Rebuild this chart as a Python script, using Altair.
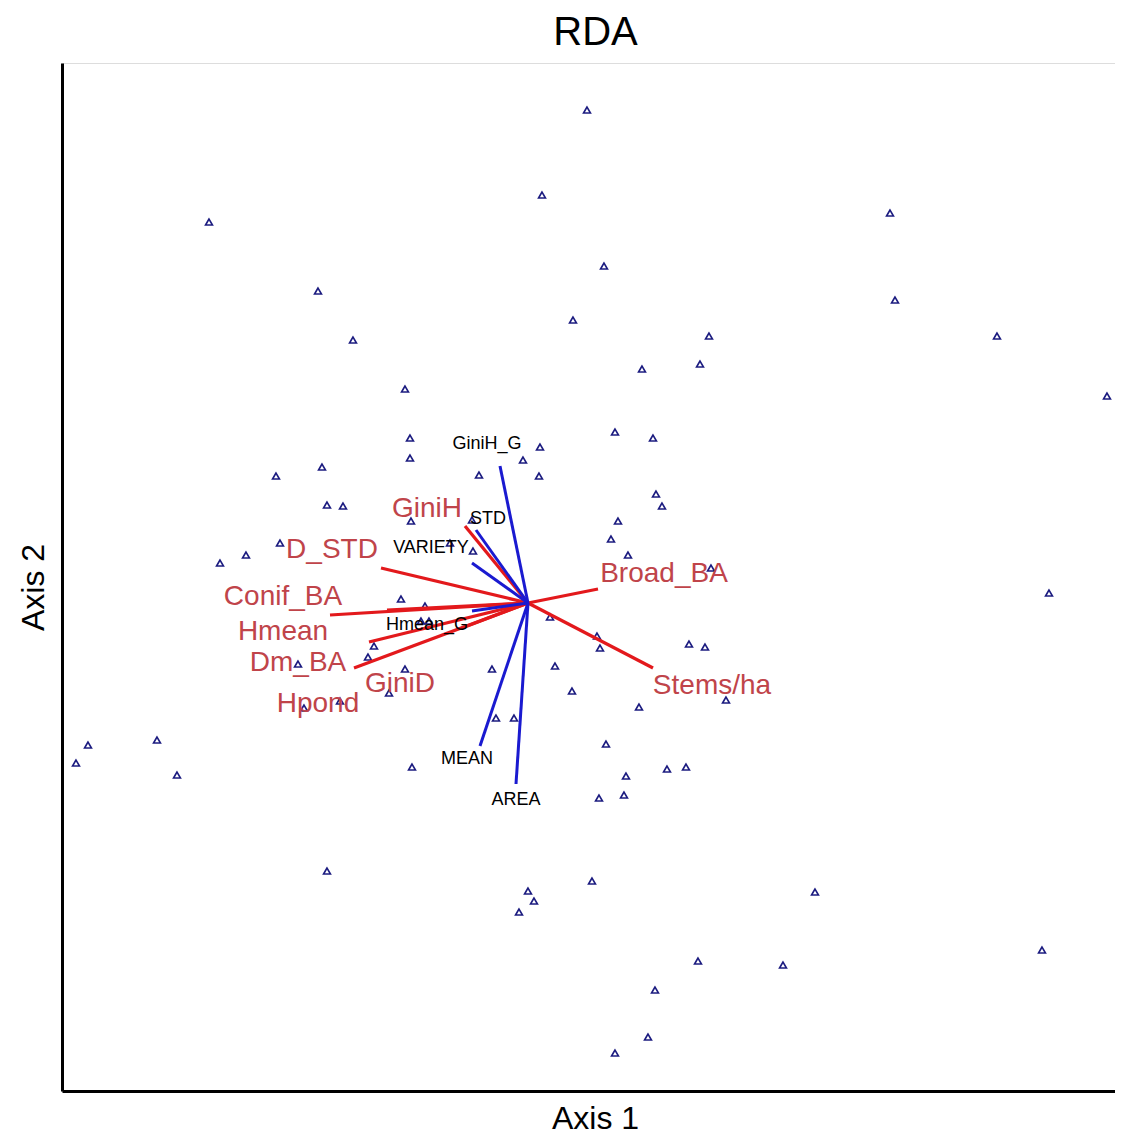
import altair as alt
import pandas as pd

# Site scores (triangles) (arbitrary ordination units)
site_x = [0.59, 0.14, -3.19, -2.10, 0.45, -1.75, -1.23, -1.18, 0.12, -1.18,
          -0.05, -2.06, -2.52, -0.49, 0.11, -2.01, -1.85, -1.17, -0.56, -2.48,
          -2.82, -3.08, -0.78, -0.55, 3.62, 0.76, 3.67, 1.81, 4.69, 1.14,
          1.72, 5.79, 0.87, 1.25, 1.28, 1.34, 0.90, 0.83, 1.00, 1.83,
          -1.27, -1.03, -1.07, -0.99, 0.22, -1.54, -1.60, -2.30, -1.23, -0.36,
          0.27, 0.44, -1.39, -2.24, -1.88, -0.32, -0.14, -4.40, -3.71, -4.52,
          -3.51, -1.16, -2.01, 0.00, 0.06, -0.09, 0.64, 5.21, 0.69, 0.72,
          1.61, 1.77, 1.98, 1.11, 0.78, 0.98, 1.39, 1.58, 0.71, 0.96,
          2.87, 1.70, 2.55, 5.14, 1.27, 1.20, 0.87]
site_y = [4.93, 4.08, 3.81, 3.12, 2.83, 2.63, 2.14, 1.65, 1.56, 1.45,
          1.43, 1.36, 1.27, 1.28, 1.27, 0.98, 0.97, 0.82, 0.83, 0.60,
          0.48, 0.40, 0.60, 0.52, 3.90, 3.37, 3.03, 2.67, 2.67, 2.34,
          2.39, 2.07, 1.71, 1.65, 1.09, 0.97, 0.82, 0.64, 0.48, 0.35,
          0.04, -0.03, -0.18, -0.18, -0.14, -0.43, -0.54, -0.61, -0.66, -0.66,
          -0.63, -0.88, -0.90, -1.05, -0.98, -1.15, -1.15, -1.42, -1.37, -1.60,
          -1.72, -1.64, -2.68, -2.88, -2.98, -3.09, -2.78, 0.10, -0.33, -0.45,
          -0.41, -0.44, -0.97, -1.04, -1.41, -1.73, -1.66, -1.64, -1.95, -1.92,
          -2.89, -3.58, -3.62, -3.47, -3.87, -4.34, -4.50]

# Explanatory variables (red arrows)
red_names = ["GiniH", "D_STD", "Conif_BA", "Hmean", "Dm_BA", "GiniD", "Hpond", "Broad_BA", "Stems/ha"]
red_vx = [-0.63, -1.47, -1.98, -1.59, -1.74, -0.66, -1.41, 0.70, 1.25]
red_vy = [0.77, 0.35, -0.12, -0.39, -0.65, -0.25, -0.07, 0.14, -0.65]
red_lx = [-1.01, -1.96, -2.45, -2.45, -2.30, -1.28, -2.10, 1.36, 1.84]
red_ly = [0.94, 0.53, 0.06, -0.29, -0.60, -0.81, -1.01, 0.29, -0.83]

# Response variables (blue arrows)
blue_names = ["GiniH_G", "STD", "VARIETY", "Hmean_G", "MEAN", "AREA"]
blue_vx = [-0.28, -0.52, -0.56, -0.56, -0.48, -0.12]
blue_vy = [1.37, 0.73, 0.40, -0.08, -1.43, -1.81]
blue_lx = [-0.41, -0.40, -0.97, -1.01, -0.61, -0.12]
blue_ly = [1.59, 0.84, 0.55, -0.22, -1.56, -1.97]

x_domain = [-4.66, 5.87]
y_domain = [-4.88, 5.40]

sites = pd.DataFrame({"x": site_x, "y": site_y})
red = pd.DataFrame({"name": red_names, "x": [0.0] * len(red_names), "y": [0.0] * len(red_names),
                    "vx": red_vx, "vy": red_vy, "lx": red_lx, "ly": red_ly})
blue = pd.DataFrame({"name": blue_names, "x": [0.0] * len(blue_names), "y": [0.0] * len(blue_names),
                     "vx": blue_vx, "vy": blue_vy, "lx": blue_lx, "ly": blue_ly})

FONT = "Liberation Sans"
xscale = alt.Scale(domain=x_domain, nice=False, zero=False)
yscale = alt.Scale(domain=y_domain, nice=False, zero=False)
xaxis = alt.Axis(title="Axis 1", ticks=False, labels=False, grid=False, domainColor="black",
                 domainWidth=3, titleFont=FONT, titleFontSize=32, titleFontWeight="normal",
                 titleColor="black", titlePadding=12, titleX=533)
yaxis = alt.Axis(title="Axis 2", ticks=False, labels=False, grid=False, domainColor="black",
                 domainWidth=3, titleFont=FONT, titleFontSize=32, titleFontWeight="normal",
                 titleColor="black", titlePadding=12, titleY=524)

pts = alt.Chart(sites).mark_point(shape="triangle-up", filled=False, size=48,
                                  strokeWidth=1.6, color="#1c1c80", opacity=1).encode(
    x=alt.X("x:Q", scale=xscale, axis=xaxis),
    y=alt.Y("y:Q", scale=yscale, axis=yaxis),
)

red_lines = alt.Chart(red).mark_rule(color="#e3191c", strokeWidth=3.2).encode(
    x=alt.X("x:Q", scale=xscale, axis=xaxis),
    y=alt.Y("y:Q", scale=yscale, axis=yaxis),
    x2="vx:Q", y2="vy:Q",
)
blue_lines = alt.Chart(blue).mark_rule(color="#1a1ad0", strokeWidth=3).encode(
    x=alt.X("x:Q", scale=xscale, axis=xaxis),
    y=alt.Y("y:Q", scale=yscale, axis=yaxis),
    x2="vx:Q", y2="vy:Q",
)
red_text = alt.Chart(red).mark_text(font=FONT, fontSize=28, color="#c0444a",
                                    align="center", baseline="middle").encode(
    x=alt.X("lx:Q", scale=xscale, axis=xaxis),
    y=alt.Y("ly:Q", scale=yscale, axis=yaxis),
    text="name:N",
)
blue_text = alt.Chart(blue).mark_text(font=FONT, fontSize=18, color="black",
                                      align="center", baseline="middle").encode(
    x=alt.X("lx:Q", scale=xscale, axis=xaxis),
    y=alt.Y("ly:Q", scale=yscale, axis=yaxis),
    text="name:N",
)

chart = alt.layer(pts, red_lines, blue_lines, red_text, blue_text).properties(
    width=1053, height=1028,
    title=alt.TitleParams("RDA", font=FONT, fontSize=40, fontWeight="normal", color="black",
                          anchor="middle", offset=10, dx=7),
    padding={"left": 54, "top": 55, "right": 0, "bottom": 45},
    autosize=alt.AutoSizeParams(type="none"),
).configure_view(strokeOpacity=0, strokeWidth=0).configure_axis(
    gridOpacity=0, tickOpacity=0
).configure(background="white")

chart.save("out.html", embed_options={"renderer": "svg", "actions": False})
